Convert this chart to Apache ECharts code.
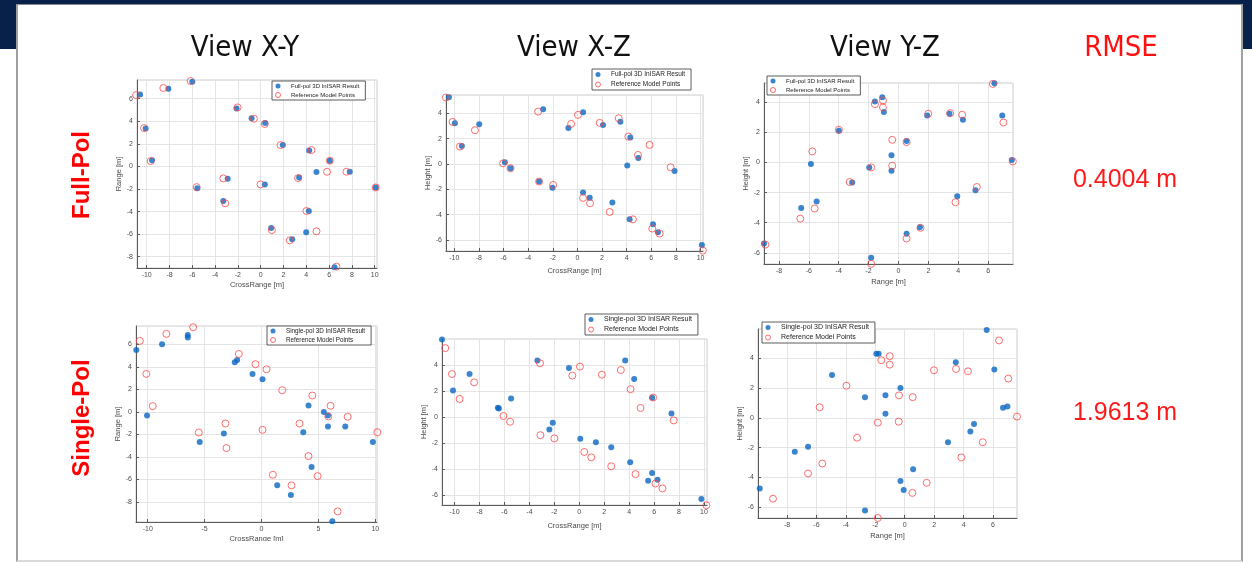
<!DOCTYPE html>
<html><head><meta charset="utf-8">
<script src="https://cdn.jsdelivr.net/npm/echarts@6/dist/echarts.min.js"></script>
<style>
html,body{margin:0;padding:0;width:1252px;height:563px;overflow:hidden;background:#fff;}
#band{position:absolute;left:0;top:0;width:1252px;height:49px;background:#07214b;}
#panel{position:absolute;left:16px;top:4px;width:1223px;height:555px;background:#fff;border-top:1px solid #8a8a8a;border-left:2px solid #a0a0a0;border-right:2px solid #a0a0a0;border-bottom:2px solid #dadada;}
#chart{position:absolute;left:0;top:0;width:1252px;height:563px;}
</style></head><body>
<div id="band"></div><div id="panel"></div><div id="chart"></div>
<script>
// ---------- data ----------
const viewTitles = ['View X-Y', 'View X-Z', 'View Y-Z'];
const rowLabels = ['Full-Pol', 'Single-Pol'];
const rmseTitle = 'RMSE';
const rmseValues = ['0.4004 m', '1.9613 m'];
const resultNames = ['Full-pol 3D InISAR Result', 'Single-pol 3D InISAR Result'];
const refName = 'Reference Model Points';
const axisNames = { cross: 'CrossRange [m]', range: 'Range [m]', height: 'Height [m]' };

const fullXY_result = [[-10.58,6.38],[-8.1,6.89],[-6.0,7.5],[-10.09,3.37],[-9.53,0.54],[-5.56,-1.94],[-2.12,5.14],[-0.8,4.26],[0.39,3.84],[1.94,1.89],[4.25,1.42],[6.06,0.51],[4.89,-0.5],[7.81,-0.47],[10.09,-1.86],[3.37,-0.97],[0.36,-1.59],[-2.9,-1.09],[-3.28,-3.07],[4.22,-3.95],[0.92,-5.46],[2.76,-6.46],[3.99,-5.84],[6.47,-8.94]];
const fullXY_ref = [[-10.93,6.32],[-8.54,6.95],[-6.15,7.57],[-10.23,3.4],[-9.65,0.48],[-5.62,-1.83],[-2.03,5.23],[-0.6,4.23],[0.36,3.76],[1.74,1.89],[4.45,1.45],[6.06,0.51],[5.82,-0.47],[7.52,-0.47],[10.09,-1.86],[3.28,-1.03],[-0.01,-1.59],[-3.28,-1.06],[-3.11,-3.27],[4.01,-3.95],[0.98,-5.64],[2.55,-6.55],[4.89,-5.75],[6.64,-8.88]];

const fullXZ_result = [[-10.43,5.26],[-9.95,3.21],[-7.97,3.13],[-9.38,1.42],[-5.89,0.13],[-5.43,-0.34],[-2.78,4.32],[-3.11,-1.39],[-2.03,-1.87],[-0.73,2.84],[0.46,4.08],[0.46,-2.26],[1.0,-2.66],[2.08,3.08],[2.84,-3.05],[3.49,3.32],[4.3,2.08],[4.05,-0.13],[4.95,0.47],[4.24,-4.37],[6.14,-4.76],[6.54,-5.39],[7.89,-0.55],[10.11,-6.39]];
const fullXZ_ref = [[-10.68,5.24],[-10.14,3.32],[-8.32,2.66],[-9.54,1.37],[-6.03,0.05],[-5.43,-0.34],[-3.19,4.13],[-3.11,-1.39],[-1.97,-1.66],[-0.51,3.16],[0.05,3.87],[0.46,-2.68],[1.03,-3.1],[1.81,3.24],[2.62,-3.79],[3.35,3.61],[4.14,2.16],[4.92,0.71],[5.86,1.5],[4.51,-4.37],[6.08,-5.1],[6.68,-5.5],[7.57,-0.26],[10.19,-6.84]];

const fullYZ_result = [[-9.0,-5.38],[-6.51,-3.02],[-5.86,-0.11],[-5.48,-2.6],[-3.99,2.1],[-3.1,-1.34],[-1.96,-0.33],[-1.83,-6.33],[-1.58,4.04],[-1.09,4.33],[-0.98,3.34],[-0.47,0.47],[-0.47,-0.55],[0.54,1.42],[0.54,-4.74],[1.43,-4.3],[1.92,3.12],[3.41,3.23],[4.31,2.83],[3.93,-2.25],[5.15,-1.85],[6.42,5.26],[6.94,3.12],[7.58,0.16]];
const fullYZ_ref = [[-8.91,-5.45],[-6.57,-3.73],[-5.77,0.73],[-5.61,-3.06],[-3.99,2.17],[-3.27,-1.3],[-1.83,-0.33],[-1.83,-6.73],[-1.58,3.87],[-1.04,4.11],[-1.04,3.65],[-0.42,1.5],[-0.42,-0.22],[0.54,1.35],[0.54,-5.05],[1.47,-4.34],[1.99,3.23],[3.46,3.27],[4.26,3.16],[3.81,-2.64],[5.24,-1.63],[6.31,5.21],[7.02,2.65],[7.65,0.07]];

const singleXY_result = [[-11.0,5.5],[-10.06,-0.32],[-8.74,6.0],[-6.48,6.83],[-6.48,6.59],[-5.43,-2.68],[-3.31,-1.92],[-2.35,4.41],[-2.14,4.61],[-0.79,3.37],[0.09,2.9],[1.38,-6.52],[2.58,-7.38],[3.67,-1.8],[4.13,0.57],[4.4,-4.9],[5.48,-0.02],[5.84,-0.32],[5.84,-1.29],[7.36,-1.29],[6.22,-9.71],[9.79,-2.68]];
const singleXY_ref = [[-10.7,6.3],[-8.36,6.92],[-6.01,7.51],[-10.12,3.37],[-9.56,0.51],[-5.51,-1.83],[-1.99,5.14],[-0.53,4.23],[0.44,3.78],[1.82,1.92],[4.46,1.45],[6.07,0.54],[5.87,-0.41],[7.57,-0.44],[10.18,-1.8],[3.34,-1.03],[0.09,-1.59],[-3.17,-1.03],[-3.08,-3.21],[4.13,-3.92],[1.0,-5.58],[2.64,-6.52],[4.93,-5.7],[6.69,-8.83]];

const singleXZ_result = [[-11.01,5.96],[-10.13,2.04],[-8.8,3.3],[-6.53,0.72],[-6.45,0.66],[-5.47,1.42],[-3.36,4.34],[-2.4,-0.95],[-2.13,-0.43],[-0.83,3.77],[0.08,-1.67],[1.33,-1.93],[2.56,-2.31],[3.68,4.34],[4.4,2.92],[4.08,-3.47],[5.84,1.49],[5.52,-4.89],[5.84,-4.3],[6.27,-4.81],[7.39,0.28],[9.79,-6.28]];
const singleXZ_ref = [[-10.75,5.29],[-10.21,3.3],[-8.43,2.66],[-9.6,1.39],[-6.08,0.08],[-5.55,-0.36],[-3.15,4.13],[-3.12,-1.39],[-2.0,-1.64],[-0.56,3.18],[0.05,3.87],[0.4,-2.68],[0.96,-3.09],[1.81,3.25],[2.56,-3.78],[3.33,3.61],[4.11,2.14],[4.91,0.7],[5.92,1.5],[4.51,-4.38],[6.11,-5.1],[6.67,-5.48],[7.57,-0.26],[10.19,-6.77]];

const singleYZ_result = [[-9.85,-4.76],[-7.47,-2.28],[-6.57,-1.94],[-4.94,2.89],[-2.7,1.4],[-2.7,-6.23],[-1.93,4.32],[-1.77,4.32],[-1.31,1.52],[-1.31,0.29],[-0.29,2.01],[-0.29,-4.24],[-0.07,-4.85],[0.57,-3.45],[2.94,-1.64],[3.47,3.75],[4.46,-0.92],[4.71,-0.41],[5.57,5.92],[6.09,3.26],[6.68,0.68],[6.98,0.77]];
const singleYZ_ref = [[-8.95,-5.44],[-6.57,-3.74],[-5.78,0.72],[-5.6,-3.07],[-3.96,2.17],[-3.24,-1.33],[-1.83,-0.32],[-1.83,-6.74],[-1.59,3.89],[-1.02,4.16],[-1.02,3.59],[-0.39,1.52],[-0.41,-0.25],[0.54,1.4],[0.52,-5.05],[1.49,-4.37],[1.99,3.21],[3.49,3.3],[4.3,3.14],[3.85,-2.66],[5.3,-1.64],[6.41,5.22],[7.04,2.65],[7.63,0.09]];

// ---------- layout / styles ----------
const BLUE = '#0a66c2', RED = '#ff4848';
const FONT = '"Liberation Sans", Arial, sans-serif';
const NARROW = '"Liberation Sans Narrow", "DejaVu Sans Condensed", "Liberation Sans", sans-serif';

const panels = [
  {res: fullXY_result, ref: fullXY_ref, resName: resultNames[0], xName: axisNames.cross, yName: axisNames.range,
   L:137, R:377, T:80, B:268, xMin:-10.85, xMax:10.2, yMin:-9.0, yMax:7.66, xStep:2, yStep:2, xGap:13, yGap:11, lg:{left:272, top:81, fs:6}},
  {res: fullXZ_result, ref: fullXZ_ref, resName: resultNames[0], xName: axisNames.cross, yName: axisNames.height,
   L:446, R:703, T:95, B:251, xMin:-10.67, xMax:10.2, yMin:-6.87, yMax:5.44, xStep:2, yStep:2, xGap:16, yGap:12, lg:{left:592, top:69, fs:6.5}},
  {res: fullYZ_result, ref: fullYZ_ref, resName: resultNames[0], xName: axisNames.range, yName: axisNames.height,
   L:764, R:1013, T:83, B:264, xMin:-9.0, xMax:7.66, yMin:-6.74, yMax:5.27, xStep:2, yStep:2, xGap:14, yGap:10, lg:{left:767, top:76, fs:6}},
  {res: singleXY_result, ref: singleXY_ref, resName: resultNames[1], xName: axisNames.cross, yName: axisNames.range,
   L:136, R:377, T:326, B:522, xMin:-11.03, xMax:10.15, yMin:-9.77, yMax:7.62, xStep:5, yStep:2, xGap:13, yGap:11, lg:{left:267, top:326, fs:6.3}},
  {res: singleXZ_result, ref: singleXZ_ref, resName: resultNames[1], xName: axisNames.cross, yName: axisNames.height,
   L:442, R:707, T:339, B:505, xMin:-11.01, xMax:10.24, yMin:-6.75, yMax:5.99, xStep:2, yStep:2, xGap:17, yGap:14, lg:{left:585, top:314, fs:7}},
  {res: singleYZ_result, ref: singleYZ_ref, resName: resultNames[1], xName: axisNames.range, yName: axisNames.height,
   L:758, R:1017, T:329, B:518, xMin:-9.97, xMax:7.63, yMin:-6.74, yMax:5.99, xStep:2, yStep:2, xGap:14, yGap:11, lg:{left:762, top:322, fs:7}}
];

const grid = [], xAxis = [], yAxis = [], series = [], legend = [];
function axisCfg(i, min, max, step, name, gap, isY) {
  return {
    type: 'value', gridIndex: i, min: min, max: max,
    minInterval: step, maxInterval: step, splitNumber: Math.round((max - min) / step),
    name: name, nameLocation: 'middle', nameGap: gap, nameRotate: isY ? 90 : 0,
    nameTextStyle: {fontSize: 7.5, color: '#4a4a4a', fontFamily: FONT},
    axisLine: {show: true, onZero: false, lineStyle: {color: '#5a5a5a', width: 1}},
    axisTick: {show: true, inside: true, length: 3, lineStyle: {color: '#5a5a5a'}},
    axisLabel: {fontSize: 7, color: '#4a4a4a', margin: 4, fontFamily: FONT, showMinLabel: false, showMaxLabel: false},
    splitLine: {show: true, lineStyle: {color: '#e4e4e4', width: 1}}
  };
}
panels.forEach((p, i) => {
  grid.push({left: p.L, top: p.T, width: p.R - p.L, height: p.B - p.T, show: true,
    borderColor: '#cfcfcf', borderWidth: 1, backgroundColor: 'transparent', containLabel: false});
  xAxis.push(axisCfg(i, p.xMin, p.xMax, p.xStep, p.xName, p.xGap, false));
  yAxis.push(axisCfg(i, p.yMin, p.yMax, p.yStep, p.yName, p.yGap, true));
  series.push({type: 'scatter', name: p.resName, xAxisIndex: i, yAxisIndex: i, data: p.res,
    symbol: 'circle', symbolSize: 6, clip: false, itemStyle: {color: BLUE}, z: 2, emphasis: {disabled: true}});
  series.push({type: 'scatter', name: refName, xAxisIndex: i, yAxisIndex: i, data: p.ref,
    symbol: 'circle', symbolSize: 7, clip: false,
    itemStyle: {color: 'rgba(255,255,255,0)', borderColor: RED, borderWidth: 1}, z: 3, emphasis: {disabled: true}});
  legend.push({show: true, left: p.lg.left, top: p.lg.top, orient: 'vertical', selectedMode: false,
    data: [
      {name: p.resName, icon: 'circle', itemStyle: {color: BLUE, borderWidth: 0}},
      {name: refName, icon: 'circle', itemStyle: {color: '#fff', borderColor: RED, borderWidth: 1}}
    ],
    itemWidth: 16, itemHeight: 5, itemGap: 3, padding: [2, 6, 2, 3],
    borderColor: '#333', borderWidth: 0.8, backgroundColor: '#fff',
    textStyle: {fontSize: p.lg.fs, color: '#222', fontFamily: FONT}});
});

const graphic = [];
const titleX = [245, 574, 885];
viewTitles.forEach((t, i) => graphic.push({type: 'text', x: titleX[i], y: 48, z: 50,
  style: {text: t, font: '29px ' + NARROW, fill: '#111', align: 'center', verticalAlign: 'middle', textAlign: 'center', textVerticalAlign: 'middle'}}));
graphic.push({type: 'text', x: 1121, y: 48, z: 50,
  style: {text: rmseTitle, font: '29px ' + NARROW, fill: '#ff1010', align: 'center', verticalAlign: 'middle', textAlign: 'center', textVerticalAlign: 'middle'}});
const rowY = [175, 418];
rowLabels.forEach((t, i) => graphic.push({type: 'text', x: 82, y: rowY[i], rotation: Math.PI / 2, z: 50,
  style: {text: t, font: 'bold 24px ' + FONT, fill: '#ff0000', align: 'center', verticalAlign: 'middle', textAlign: 'center', textVerticalAlign: 'middle'}}));
const rmseY = [180, 413];
rmseValues.forEach((t, i) => graphic.push({type: 'text', x: 1125, y: rmseY[i], z: 50,
  style: {text: t, font: '25px ' + FONT, fill: '#ff1a1a', align: 'center', verticalAlign: 'middle', textAlign: 'center', textVerticalAlign: 'middle'}}));
// the slide crops the lower part of the bottom-left axis title
graphic.push({type: 'rect', z: 100, shape: {x: 180, y: 541, width: 160, height: 16}, style: {fill: '#fff'}});

const chart = echarts.init(document.getElementById('chart'), null, {renderer: 'canvas'});
chart.setOption({
  animation: false,
  backgroundColor: 'transparent',
  grid: grid, xAxis: xAxis, yAxis: yAxis, series: series, legend: legend, graphic: graphic
});
</script>
</body></html>
